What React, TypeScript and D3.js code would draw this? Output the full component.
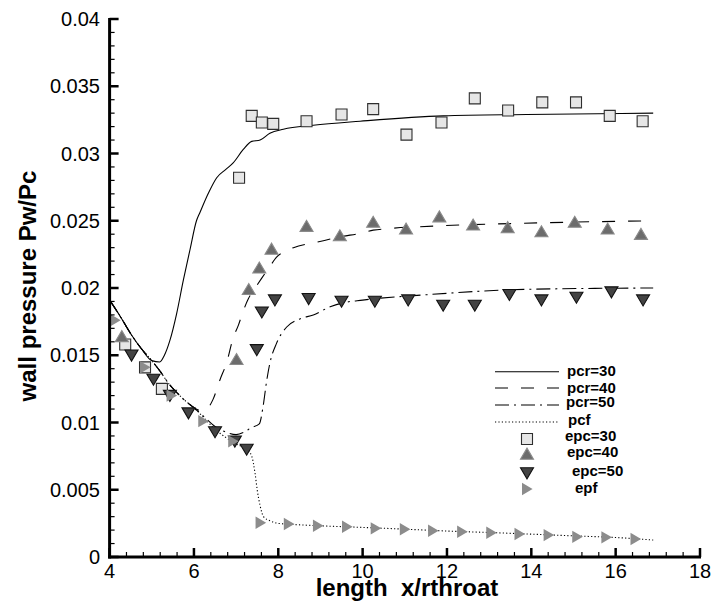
import React from "react";
import * as d3 from "d3";

// ---------- data ----------
const X_TICKS = [4, 6, 8, 10, 12, 14, 16, 18];
const X_TICK_LABELS = ["4", "6", "8", "10", "12", "14", "16", "18"];
const Y_TICKS = [0, 0.005, 0.01, 0.015, 0.02, 0.025, 0.03, 0.035, 0.04];
const Y_TICK_LABELS = ["0", "0.005", "0.01", "0.015", "0.02", "0.025", "0.03", "0.035", "0.04"];

const X_TITLE = "length  x/rthroat";
const Y_TITLE = "wall pressure Pw/Pc";
const SERIES_NAMES = ["pcr=30", "pcr=40", "pcr=50", "pcf", "epc=30", "epc=40", "epc=50", "epf"];

const pcr30: [number, number][] = [
  [4.0, 0.0191], [4.25, 0.0179], [4.5, 0.0166], [4.75, 0.0155], [5.0, 0.0146], [5.19, 0.0145],
  [5.3, 0.0150], [5.43, 0.0161], [5.59, 0.0181], [5.75, 0.0206], [5.91, 0.0229], [6.06, 0.0250],
  [6.14, 0.0256], [6.35, 0.0271], [6.54, 0.0282], [6.75, 0.0288], [6.93, 0.0293], [7.17, 0.0303],
  [7.37, 0.0309], [7.57, 0.0310], [7.8, 0.0315], [8.12, 0.0318], [8.83, 0.0321], [9.94, 0.0324],
  [11.91, 0.0328], [13.89, 0.0329], [16.89, 0.0330],
];

const pcr40: [number, number][] = [
  [4.0, 0.0191], [4.25, 0.0179], [4.5, 0.0166], [4.75, 0.0155], [5.0, 0.0146], [5.2, 0.0138],
  [5.4, 0.0129], [5.6, 0.0122], [5.8, 0.0116], [6.0, 0.0111], [6.15, 0.0109], [6.3, 0.0110],
  [6.45, 0.0117], [6.62, 0.0132], [6.78, 0.0145], [6.93, 0.0163], [7.05, 0.0172], [7.17, 0.0183],
  [7.29, 0.0192], [7.41, 0.0198], [7.6, 0.0207], [7.8, 0.0216], [7.96, 0.0223], [8.15, 0.0227],
  [8.36, 0.0230], [8.91, 0.0234], [9.46, 0.0238], [10.0, 0.0241], [10.25, 0.0243], [11.67, 0.0246],
  [13.65, 0.0248], [16.89, 0.0250],
];

const pcr50: [number, number][] = [
  [4.0, 0.0191], [4.25, 0.0179], [4.5, 0.0166], [4.75, 0.0155], [5.0, 0.0146], [5.2, 0.0138],
  [5.4, 0.0129], [5.6, 0.0122], [5.8, 0.0116], [6.0, 0.0111], [6.25, 0.0104], [6.5, 0.0097],
  [6.75, 0.0093], [7.0, 0.0091], [7.2, 0.0093], [7.35, 0.0096], [7.55, 0.0099], [7.64, 0.0112],
  [7.72, 0.0130], [7.8, 0.0144], [7.96, 0.0159], [8.2, 0.0171], [8.51, 0.0177], [8.83, 0.0180],
  [9.23, 0.0186], [9.54, 0.0189], [10.0, 0.0191], [11.52, 0.0195], [13.89, 0.0199], [16.89, 0.0200],
];

const pcf: [number, number][] = [
  [4.0, 0.0191], [4.25, 0.0179], [4.5, 0.0166], [4.75, 0.0155], [5.0, 0.0146], [5.2, 0.0138],
  [5.4, 0.0129], [5.6, 0.0122], [5.8, 0.0116], [6.0, 0.0111], [6.25, 0.0103], [6.5, 0.0095],
  [6.75, 0.0089], [7.0, 0.0084], [7.25, 0.0080], [7.37, 0.0075], [7.45, 0.0062], [7.5, 0.0050],
  [7.57, 0.0038], [7.65, 0.0030], [7.8, 0.0027], [8.0, 0.0025], [8.2, 0.00245], [9.0, 0.00232],
  [10.0, 0.0022], [11.0, 0.00207], [12.0, 0.00193], [13.0, 0.00182], [14.0, 0.0017],
  [15.0, 0.00157], [16.0, 0.00145], [16.89, 0.00126],
];

const epc30: [number, number][] = [
  [4.37, 0.0158], [4.84, 0.0141], [5.24, 0.0125], [7.07, 0.0282], [7.37, 0.0328], [7.61, 0.0323],
  [7.88, 0.0322], [8.67, 0.0324], [9.5, 0.0329], [10.25, 0.0333], [11.04, 0.0314], [11.87, 0.0323],
  [12.66, 0.0341], [13.45, 0.0332], [14.26, 0.0338], [15.06, 0.0338], [15.86, 0.0328], [16.64, 0.0324],
];

const epc40: [number, number][] = [
  [4.29, 0.0164], [7.01, 0.0147], [7.3, 0.0199], [7.55, 0.0215], [7.84, 0.0229], [8.67, 0.0246],
  [9.46, 0.0239], [10.25, 0.0249], [11.03, 0.0244], [11.82, 0.0253], [12.62, 0.0247], [13.44, 0.0245],
  [14.24, 0.0242], [15.03, 0.0249], [15.81, 0.0244], [16.6, 0.0240],
];

const epc50: [number, number][] = [
  [4.52, 0.0150], [5.04, 0.0132], [5.43, 0.0120], [5.87, 0.0107], [6.5, 0.0093], [6.97, 0.0086],
  [7.25, 0.0080], [7.49, 0.0154], [7.61, 0.0182], [7.92, 0.0191], [8.72, 0.0192], [9.5, 0.0190],
  [10.29, 0.0190], [11.08, 0.0191], [11.91, 0.0187], [12.66, 0.0187], [13.48, 0.0195], [14.24, 0.0191],
  [15.07, 0.0193], [15.9, 0.0197], [16.65, 0.0191],
];

const epf: [number, number][] = [
  [4.13, 0.0176], [4.84, 0.0141], [5.47, 0.0120], [6.22, 0.0101], [6.93, 0.0086], [7.58, 0.00255],
  [8.25, 0.00245], [8.94, 0.00232], [9.63, 0.00225], [10.31, 0.00213], [11.0, 0.00206], [11.67, 0.00195],
  [12.36, 0.00188], [13.05, 0.0018], [13.72, 0.00171], [14.41, 0.00163], [15.09, 0.0015], [15.78, 0.00146],
  [16.47, 0.00134],
];

// ---------- styles ----------
const FONT = "'Liberation Sans', Arial, Helvetica, sans-serif";
const SQ = { fill: "#e6e6e6", stroke: "#2e2e2e" };
const UP = { fill: "#6c6c6c", stroke: "#8a8a8a" };
const DN = { fill: "#434343", stroke: "#111111" };
const RT = { fill: "#8c8c8c", stroke: "none" };

const squarePath = "M-5.5,-5.5H5.5V5.5H-5.5Z";
const upPath = "M-6.5,5.2L6.5,5.2L0,-5.8Z";
const downPath = "M-6.5,-5.2L6.5,-5.2L0,5.8Z";
const rightPath = "M-5,-6.2L-5,6.2L5.6,0Z";

export default function App() {
  const W = 715;
  const H = 610;
  const x = d3.scaleLinear().domain([4, 18]).range([109.6, 700]);
  const y = d3.scaleLinear().domain([0, 0.04]).range([557, 19]);

  const line = d3
    .line<[number, number]>()
    .x((d) => x(d[0]))
    .y((d) => y(d[1]))
    .curve(d3.curveMonotoneX);

  const xMinor = d3.range(4, 18.001, 0.4).filter((v) => Math.abs(v / 2 - Math.round(v / 2)) > 1e-6);
  const yMinor = d3.range(0, 0.04001, 0.001).filter((v) => Math.abs(v / 0.005 - Math.round(v / 0.005)) > 1e-6);

  const x0 = x(4);
  const y0 = y(0);

  const lineStyles = [
    { data: pcr30, dash: undefined as string | undefined, width: 1.1 },
    { data: pcr40, dash: "13,13", width: 1.1 },
    { data: pcr50, dash: "14,5,2,5", width: 1.1 },
    { data: pcf, dash: "1.2,2.2", width: 1.1 },
  ];

  const marker = (path: string, st: { fill: string; stroke: string }, px: number, py: number, key: string) => (
    <path key={key} d={path} transform={`translate(${px},${py})`} fill={st.fill} stroke={st.stroke} strokeWidth={1.1} />
  );

  const legendLineY = [371.7, 388, 405, 422];
  const legendMarkY = [439, 454, 473, 489];
  const legendTextPos: [number, number][] = [
    [567, 376], [567, 393], [566, 407], [568, 425], [565, 441], [567, 457], [572, 476], [575, 493],
  ];
  const markerDefs = [
    { path: squarePath, st: SQ },
    { path: upPath, st: UP },
    { path: downPath, st: DN },
    { path: rightPath, st: RT },
  ];

  return (
    <div style={{ position: "absolute", left: 0, top: 0, width: W, height: H, background: "#fff" }}>
      <svg width={W} height={H} style={{ display: "block" }} fontFamily={FONT}>
        <rect width={W} height={H} fill="#fff" />

        {/* lines */}
        {lineStyles.map((ls, i) => (
          <path
            key={"l" + i}
            d={line(ls.data) || ""}
            fill="none"
            stroke="#000"
            strokeWidth={ls.width}
            strokeDasharray={ls.dash}
          />
        ))}

        {/* markers */}
        {epc30.map((d, i) => marker(squarePath, SQ, x(d[0]), y(d[1]), "s" + i))}
        {epc40.map((d, i) => marker(upPath, UP, x(d[0]), y(d[1]), "u" + i))}
        {epc50.map((d, i) => marker(downPath, DN, x(d[0]), y(d[1]), "d" + i))}
        {epf.map((d, i) => marker(rightPath, RT, x(d[0]), y(d[1]), "r" + i))}

        {/* axes */}
        <line x1={x0} x2={x0} y1={y(0.04) - 1} y2={y0 + 1.5} stroke="#000" strokeWidth={3} />
        <line x1={x0 - 1.5} x2={x(18) + 1} y1={y0} y2={y0} stroke="#000" strokeWidth={3} />

        {X_TICKS.map((t) => (
          <line key={"xt" + t} x1={x(t)} x2={x(t)} y1={y0} y2={y0 - 9} stroke="#000" strokeWidth={2.5} />
        ))}
        {xMinor.map((t, i) => (
          <line key={"xm" + i} x1={x(t)} x2={x(t)} y1={y0} y2={y0 - 5} stroke="#000" strokeWidth={1.2} />
        ))}
        {Y_TICKS.map((t) => (
          <line key={"yt" + t} x1={x0} x2={x0 + 9} y1={y(t)} y2={y(t)} stroke="#000" strokeWidth={2.5} />
        ))}
        {yMinor.map((t, i) => (
          <line key={"ym" + i} x1={x0} x2={x0 + 5} y1={y(t)} y2={y(t)} stroke="#000" strokeWidth={1.2} />
        ))}

        {X_TICKS.map((t, i) => (
          <text key={"xl" + t} x={x(t)} y={578} fontSize={20} textAnchor="middle" fill="#000">
            {X_TICK_LABELS[i]}
          </text>
        ))}
        {Y_TICKS.map((t, i) => (
          <text key={"yl" + t} x={100} y={y(t) + 7} fontSize={20} textAnchor="end" fill="#000">
            {Y_TICK_LABELS[i]}
          </text>
        ))}

        <text x={407} y={596} fontSize={24} fontWeight="bold" textAnchor="middle" fill="#000" xmlSpace="preserve">
          {X_TITLE}
        </text>
        <text
          transform={`translate(36,286) rotate(-90)`}
          fontSize={24}
          fontWeight="bold"
          textAnchor="middle"
          fill="#000"
        >
          {Y_TITLE}
        </text>

        {/* legend */}
        {lineStyles.map((ls, i) => (
          <line
            key={"lg" + i}
            x1={495}
            x2={559}
            y1={legendLineY[i]}
            y2={legendLineY[i]}
            stroke="#000"
            strokeWidth={ls.width}
            strokeDasharray={ls.dash}
          />
        ))}
        {markerDefs.map((m, i) => marker(m.path, m.st, 527, legendMarkY[i], "lm" + i))}
        {SERIES_NAMES.map((n, i) => (
          <text key={"lt" + i} x={legendTextPos[i][0]} y={legendTextPos[i][1]} fontSize={15} fontWeight="bold" fill="#000">
            {n}
          </text>
        ))}
      </svg>
    </div>
  );
}
